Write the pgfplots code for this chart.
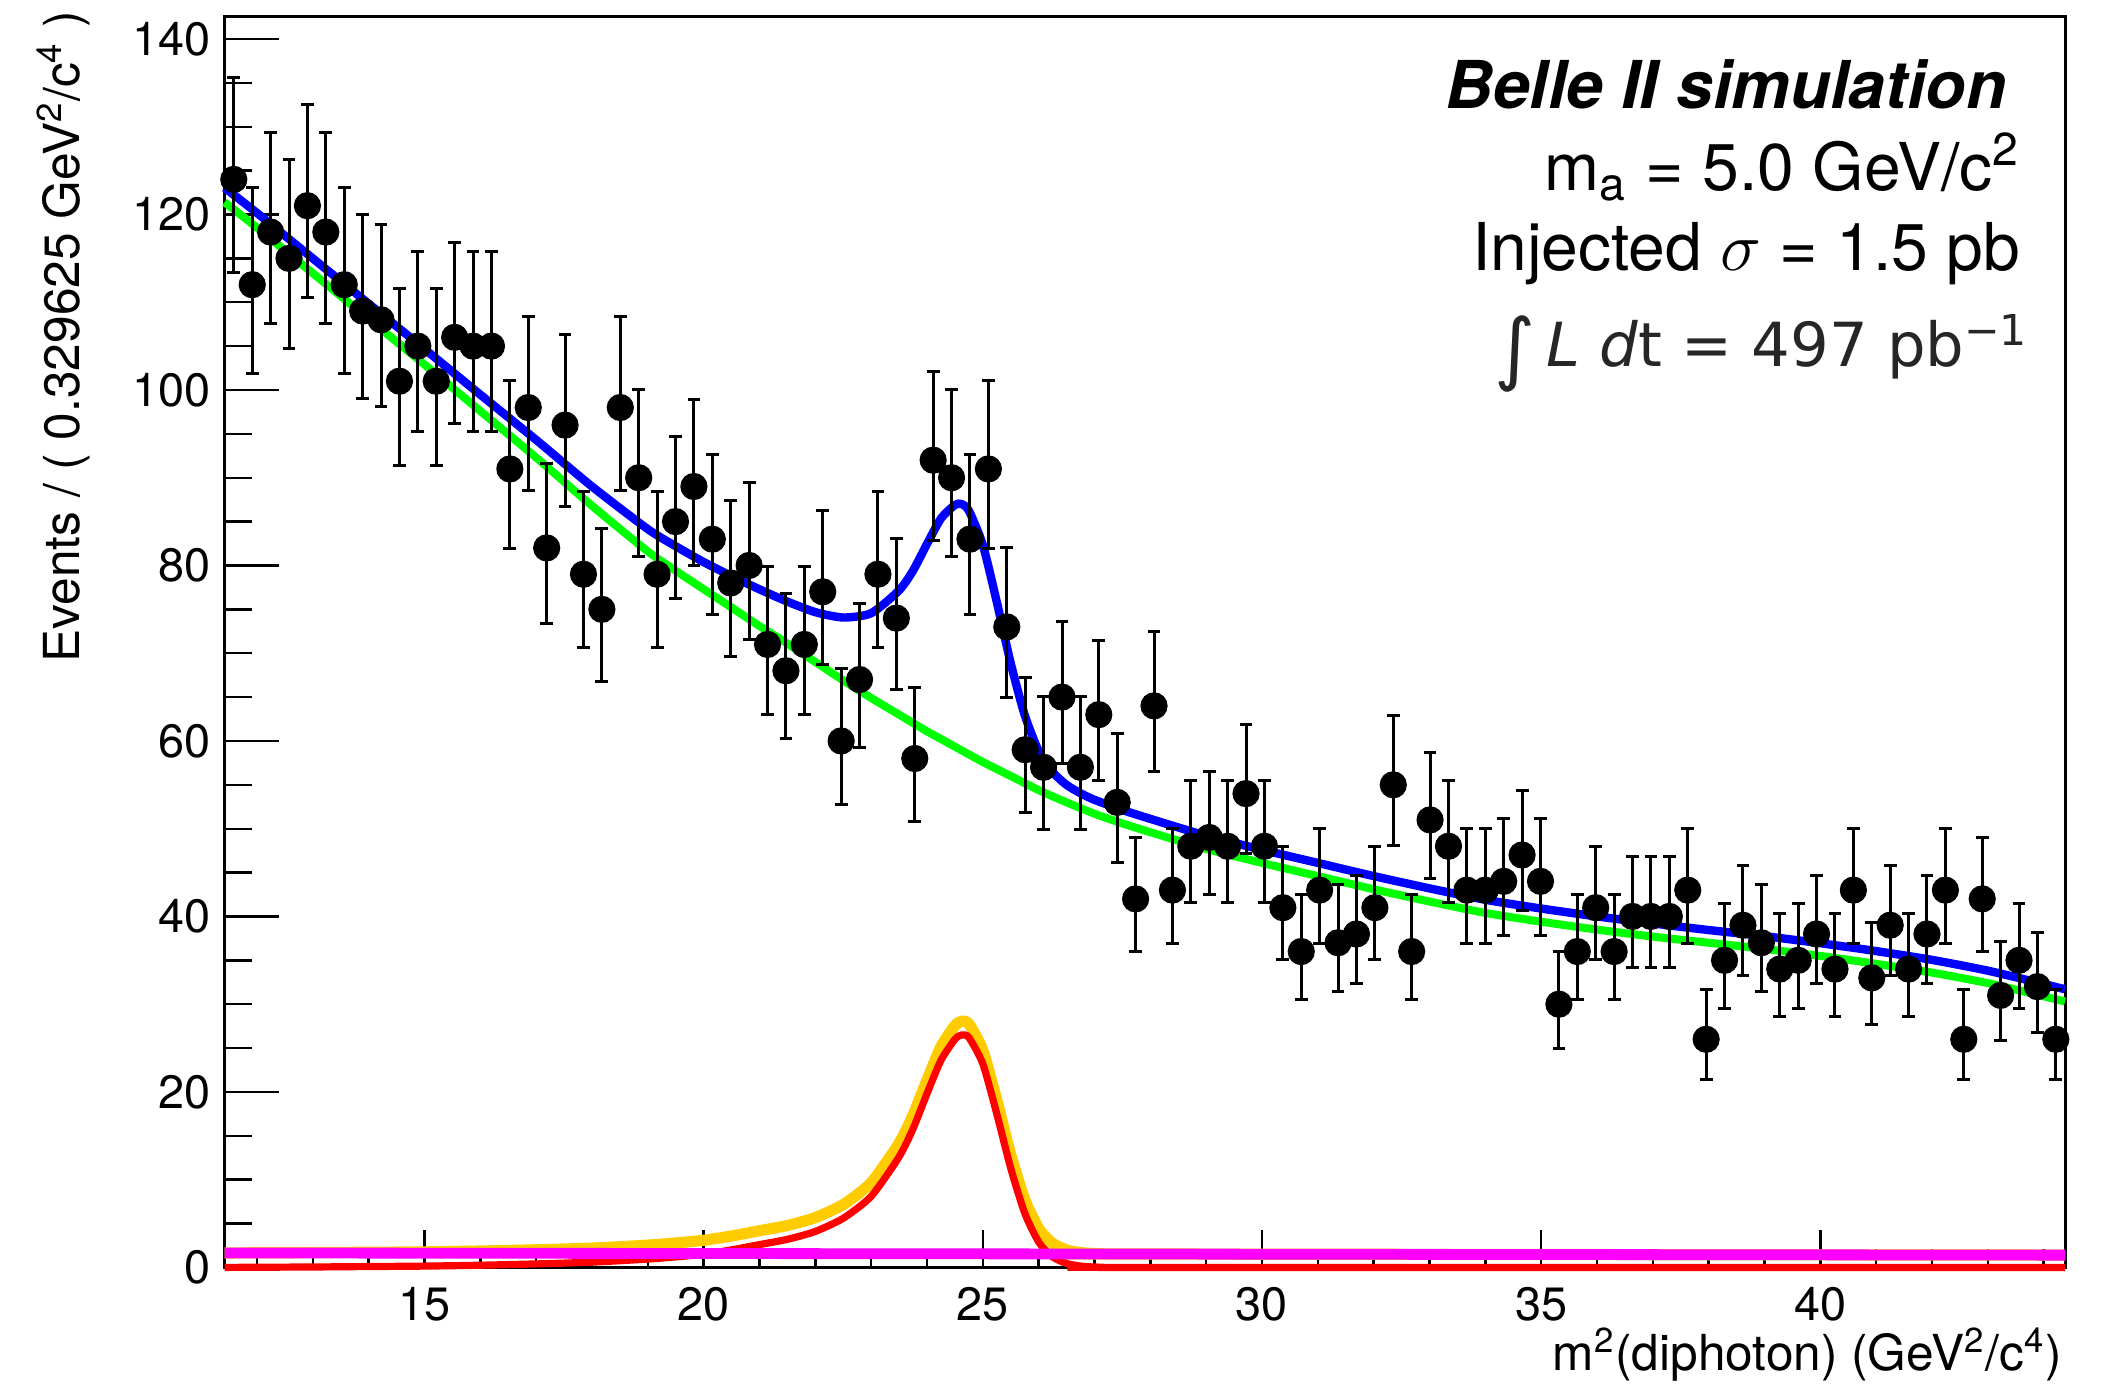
\documentclass[border=0pt]{standalone}
\usepackage{pgfplots}
\pgfplotsset{compat=1.18}
\usepackage{pgfplotstable}
\usepackage{fontspec}
\setmainfont{TeX Gyre Heros}
\newfontfamily\dejavu{DejaVu Sans}

\definecolor{rblue}{RGB}{0,0,255}
\definecolor{rgreen}{RGB}{0,255,0}
\definecolor{rorange}{RGB}{255,204,0}
\definecolor{rred}{RGB}{255,0,0}
\definecolor{rmagenta}{RGB}{255,0,255}

\pgfplotstableread{
x y ep em
11.5848 124 11.65 10.65
11.9145 112 11.09 10.09
12.2441 118 11.37 10.37
12.5737 115 11.24 10.24
12.9033 121 11.51 10.51
13.2330 118 11.37 10.37
13.5626 112 11.09 10.09
13.8922 109 10.95 9.95
14.2218 108 10.90 9.90
14.5515 101 10.56 9.56
14.8811 105 10.76 9.76
15.2107 101 10.56 9.56
15.5403 106 10.81 9.81
15.8700 105 10.76 9.76
16.1996 105 10.76 9.76
16.5292 91 10.05 9.05
16.8588 98 10.41 9.41
17.1885 82 9.57 8.57
17.5181 96 10.31 9.31
17.8477 79 9.40 8.40
18.1773 75 9.17 8.17
18.5070 98 10.41 9.41
18.8366 90 10.00 9.00
19.1662 79 9.40 8.40
19.4958 85 9.73 8.73
19.8255 89 9.95 8.95
20.1551 83 9.62 8.62
20.4847 78 9.35 8.35
20.8143 80 9.46 8.46
21.1440 71 8.94 7.94
21.4736 68 8.76 7.76
21.8032 71 8.94 7.94
22.1328 77 9.29 8.29
22.4625 60 8.26 7.26
22.7921 67 8.70 7.70
23.1217 79 9.40 8.40
23.4513 74 9.12 8.12
23.7810 58 8.13 7.13
24.1106 92 10.10 9.10
24.4402 90 10.00 9.00
24.7698 83 9.62 8.62
25.0995 91 10.05 9.05
25.4291 73 9.06 8.06
25.7587 59 8.20 7.20
26.0883 57 8.07 7.07
26.4180 65 8.58 7.58
26.7476 57 8.07 7.07
27.0772 63 8.45 7.45
27.4068 53 7.80 6.80
27.7365 42 7.00 6.00
28.0661 64 8.52 7.52
28.3957 43 7.08 6.08
28.7253 48 7.45 6.45
29.0550 49 7.52 6.52
29.3846 48 7.45 6.45
29.7142 54 7.87 6.87
30.0438 48 7.45 6.45
30.3735 41 6.92 5.92
30.7031 36 6.52 5.52
31.0327 43 7.08 6.08
31.3623 37 6.60 5.60
31.6920 38 6.68 5.68
32.0216 41 6.92 5.92
32.3512 55 7.93 6.93
32.6808 36 6.52 5.52
33.0105 51 7.66 6.66
33.3401 48 7.45 6.45
33.6697 43 7.08 6.08
33.9993 43 7.08 6.08
34.3290 44 7.15 6.15
34.6586 47 7.37 6.37
34.9882 44 7.15 6.15
35.3178 30 6.00 5.00
35.6475 36 6.52 5.52
35.9771 41 6.92 5.92
36.3067 36 6.52 5.52
36.6363 40 6.84 5.84
36.9660 40 6.84 5.84
37.2956 40 6.84 5.84
37.6252 43 7.08 6.08
37.9548 26 5.62 4.62
38.2845 35 6.44 5.44
38.6141 39 6.77 5.77
38.9437 37 6.60 5.60
39.2733 34 6.35 5.35
39.6030 35 6.44 5.44
39.9326 38 6.68 5.68
40.2622 34 6.35 5.35
40.5918 43 7.08 6.08
40.9215 33 6.27 5.27
41.2511 39 6.77 5.77
41.5807 34 6.35 5.35
41.9103 38 6.68 5.68
42.2400 43 7.08 6.08
42.5696 26 5.62 4.62
42.8992 42 7.00 6.00
43.2288 31 6.09 5.09
43.5585 35 6.44 5.44
43.8881 32 6.18 5.18
44.2177 26 5.62 4.62
}\datatable

\pgfplotstableread{
x y
11.42 121.4
12 118.5
13 113.3
14 108.1
15 102.9
16 97.6
17 92.3
18 86.8
19 81.6
19.5 79.4
20 77.3
20.5 75.2
21 73.1
21.5 71.1
22 69.0
22.5 66.9
23 64.9
23.5 63.0
24 61.1
24.5 59.35
25 57.6
25.5 56.0
26 54.4
26.5 53.0
27 51.7
27.5 50.6
28 49.6
29 47.7
30 46.1
31 44.6
32 43.1
33 41.7
34 40.4
35 39.4
36 38.5
37 37.7
38 37.0
39 36.3
40 35.5
41 34.6
42 33.6
43 32.4
44 30.9
44.3825 30.3
}\greentable

\pgfplotstableread{
x y
11.42 123.05
12 120.17
13 114.99
14 109.83
15 104.67
16 99.47
17 94.31
18 89.00
19 84.14
19.5 82.19
20 80.39
20.5 78.78
21 77.28
21.5 75.88
22 74.68
22.5 74.07
23 74.56
23.5 77.16
23.75 79.41
24 82.45
24.25 85.35
24.5 86.90
24.62 87.00
24.75 86.25
25 82.35
25.25 75.85
25.5 68.85
25.75 62.95
26 58.85
26.25 56.45
26.5 54.99
26.75 54.04
27 53.29
27.5 52.13
28 51.12
29 49.2
30 47.6
31 46.1
32 44.6
33 43.2
34 41.9
35 40.9
36 40.0
37 39.2
38 38.45
39 37.75
40 36.95
41 36.05
42 35.05
43 33.82
44 32.3
44.3825 31.7
}\bluetable

\pgfplotstableread{
x y
11.42 1.65
13 1.69
14 1.73
15 1.77
16 1.87
17 2.01
18 2.20
19 2.54
19.5 2.79
20 3.09
20.5 3.58
21 4.18
21.5 4.78
22 5.68
22.5 7.17
23 9.66
23.5 14.16
23.75 17.36
24 21.35
24.25 25.15
24.5 27.55
24.62 28.05
24.75 27.75
25 24.75
25.25 19.05
25.5 12.85
25.75 7.75
26 4.45
26.25 2.75
26.5 1.99
26.75 1.69
27 1.59
27.5 1.53
44.3825 1.40
}\orangetable

\pgfplotstableread{
x y
11.42 0.0
13 0.05
14 0.1
15 0.15
16 0.25
17 0.4
18 0.6
19 0.95
19.5 1.2
20 1.5
20.5 2.0
21 2.6
21.5 3.2
22 4.1
22.5 5.6
23 8.1
23.5 12.6
23.75 15.8
24 19.8
24.25 23.6
24.5 26.0
24.62 26.5
24.75 26.2
25 23.2
25.25 17.5
25.5 11.3
25.75 6.2
26 2.9
26.25 1.2
26.5 0.45
26.75 0.15
27 0.05
27.5 0.0
44.3825 0.0
}\redtable

\pgfplotstableread{
x y
11.42 1.65
44.3825 1.40
}\magentatable

\begin{document}
\begin{tikzpicture}
\begin{axis}[
  at={(0,0)}, anchor=south west,
  scale only axis, width=460.1pt, height=312.8pt,
  xmin=11.42, xmax=44.3825, ymin=0, ymax=142.6,
  xtick={15,20,25,30,35,40},
  minor xtick={12,13,14,16,17,18,19,21,22,23,24,26,27,28,29,31,32,33,34,36,37,38,39,41,42,43,44},
  ytick={0,20,40,60,80,100,120,140},
  minor ytick={5,10,15,25,30,35,45,50,55,65,70,75,85,90,95,105,110,115,125,130,135},
  tick align=inside, xtick pos=left, ytick pos=left,
  axis line style={line width=0.75pt, black},
  every tick/.style={black, line width=0.6pt},
  xtick style={/pgfplots/major tick length=9.3pt, /pgfplots/minor tick length=4.7pt},
  ytick style={/pgfplots/major tick length=13.7pt, /pgfplots/minor tick length=6.9pt},
  ticklabel style={font=\fontsize{11.7}{14}\selectfont},
  xticklabel style={yshift=-1.5pt},
  /pgf/number format/assume math mode=true,
  clip=false,
]
\addplot[rorange, line width=2.8pt, smooth, tension=0.4] table[x=x,y=y] \orangetable;
\addplot[rred, line width=1.8pt, smooth, tension=0.4] table[x=x,y=y] \redtable;
\addplot[rmagenta, line width=2.7pt] table[x=x,y=y] \magentatable;
\addplot[rgreen, line width=2.0pt, smooth, tension=0.4] table[x=x,y=y] \greentable;
\addplot[rblue, line width=2.1pt, smooth, tension=0.4] table[x=x,y=y] \bluetable;
\addplot[black, only marks, mark=*, mark size=3.2pt,
  error bars/.cd, y dir=both, y explicit,
  error bar style={line width=0.75pt, black},
  error mark options={rotate=90, mark size=1.6pt, line width=0.75pt, black}]
  table[x=x, y=y, y error plus=ep, y error minus=em] \datatable;
\end{axis}
\node[rotate=90, anchor=east, inner sep=0pt, font=\fontsize{12.4}{15}\selectfont] at (-40.3pt, 314.2pt)
  {Events / ( 0.329625 GeV\textsuperscript{2}/c\textsuperscript{4} )};
\node[anchor=base east, inner sep=0pt, font=\fontsize{12.4}{15}\selectfont] at (459.6pt, -25.7pt)
  {m\textsuperscript{2}(diphoton) (GeV\textsuperscript{2}/c\textsuperscript{4})};
\node[anchor=base east, inner sep=0pt, font=\fontsize{16.5}{20}\selectfont\bfseries\itshape] at (445.7pt, 289.6pt)
  {Belle II simulation};
\node[anchor=base east, inner sep=0pt, font=\fontsize{16.5}{20}\selectfont] at (449.1pt, 269.3pt)
  {m\textsubscript{a} = 5.0 GeV/c\textsuperscript{2}};
\node[anchor=base east, inner sep=0pt, font=\fontsize{16.5}{20}\selectfont] at (449.1pt, 249.3pt)
  {Injected $\sigma$ = 1.5 pb};
\node[anchor=base east, inner sep=0pt, text=black!85, font=\fontsize{15.2}{19}\selectfont\dejavu] at (451.3pt, 225.3pt)
  {\raisebox{-0.15em}{\scalebox{1.3}{∫}}\,\textit{L} \textit{d}t = 497 pb\textsuperscript{−1}};
\pgfresetboundingbox
\path[use as bounding box] (-56.15pt,-29.2pt) rectangle (473.1pt,316.85pt);
\end{tikzpicture}
\end{document}
